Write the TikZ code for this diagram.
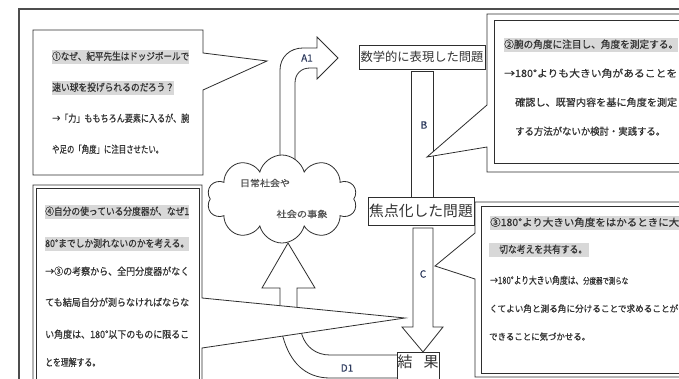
\documentclass[tikz,border=0pt]{standalone}
\usepackage{fontspec}
\usepackage{graphicx}
\setmainfont{Noto Sans CJK JP}
\newfontfamily\jpb{Noto Sans CJK JP}[FakeBold=0.6]
\usetikzlibrary{shapes.symbols}
\definecolor{ln}{HTML}{2E2E2E}
\definecolor{tx}{HTML}{333333}
\definecolor{lab}{HTML}{2E3B5E}
\definecolor{hl}{HTML}{D8D8D8}
\newcommand\fw[2]{\resizebox{#1pt}{\height}{#2}}
\begin{document}
\begin{tikzpicture}[x=1pt,y=-1pt,line join=miter,
  frame/.style={draw=ln,line width=0.8pt,fill=white},
  txt/.style={anchor=west,inner xsep=0pt,inner ysep=1.5pt,text height=8.5pt,text depth=2.5pt,font=\jpb\fontsize{10}{12}\selectfont,text=tx},
  hlt/.style={txt,fill=hl},
  lbl/.style={font=\jpb\fontsize{10}{12}\selectfont,text=lab,inner sep=0pt},
  cltxt/.style={font=\jpb\fontsize{9}{11}\selectfont,text=tx!85,inner sep=0pt},
  bigbox/.style={draw=ln,fill=white,line width=0.8pt,inner sep=0pt,text=tx}]
\useasboundingbox (0,0) rectangle (679,379);
\clip (0,0) rectangle (679,379);
\fill[white] (0,0) rectangle (679,379);
% outer frame
\draw[draw=ln!85,line width=1.6pt] (19,390) -- (19,9) -- (690,9);
% A1 bent arrow
\draw[frame] (280,175) -- (280,70) .. controls (280,57) and (290,48) .. (303,48) -- (317,48) -- (317,37) -- (338,58) -- (317,79) -- (317,68) -- (310,68) .. controls (301,68) and (295,74) .. (295,83) -- (295,175);
\node[lbl] (A1) at (307,58) {A1};
% up arrow to cloud
\draw[frame] (280,322) -- (280,288) -- (262,288) -- (288,243) -- (315,288) -- (297,288) -- (297,322);
% D1 band
\draw[frame] (278,322) -- (283,337) .. controls (290,362) and (305,378) .. (330,378) -- (400,378) -- (400,355) -- (330,355) .. controls (316,355) and (306,347) .. (302,335) -- (298,322);
\node[lbl] (D1) at (347,368) {D1};
% cloud
\node[cloud,cloud puffs=10,cloud ignores aspect,minimum width=150pt,minimum height=88pt,draw=ln,fill=white,line width=0.8pt] (cloud) at (282,199) {};
\node[cltxt] (c1) at (265,183) {\fw{50}{日常社会や}};
\node[cltxt] (c2) at (302,214) {\fw{51}{社会の事象}};
% B bar and problem boxes
\node[bigbox,minimum width=22pt,minimum height=126pt] (Bbar) at (422,134) {};
\node[lbl] (B) at (424,125) {B};
\node[bigbox,minimum width=126pt,minimum height=24pt,font=\fontsize{12.3}{14}\selectfont] (P1) at (422,57) {数学的に表現した問題};
\node[bigbox,minimum width=106pt,minimum height=28pt,font=\fontsize{14.8}{16}\selectfont] (P2) at (421,211) {焦点化した問題};
% C arrow
\draw[frame] (413,228) -- (413,327) -- (402,327) -- (423,352) -- (443,327) -- (433,327) -- (433,228) -- cycle;
\node[lbl] (C) at (423,274) {C};
% result box
\draw[frame] (397,352) rectangle (439,395);
\node[inner sep=0pt,font=\fontsize{15}{17}\selectfont,text=tx,anchor=north] (R) at (418,355) {\fw{41}{結\hspace{11pt}果}};
% box 1
\draw[frame] (33,30) -- (203,30) -- (203,53) -- (267,61) -- (203,90) -- (203,175) -- (33,175) -- cycle;
\node[hlt] (b1a) at (52,57) {\fw{137}{①なぜ、紀平先生はドッジボールで}};
\node[hlt] (b1b) at (52,88) {\fw{122}{速い球を投げられるのだろう？}};
\node[txt] (b1c) at (52,119) {\fw{137}{→「力」ももちろん要素に入るが、腕}};
\node[txt] (b1d) at (52,150) {\fw{111}{や足の「角度」に注目させたい。}};
% box 2
\draw[frame] (690,14) -- (487,14) -- (487,105) -- (427,157) -- (487,147) -- (487,172) -- (690,172);
\draw[frame] (494,20) rectangle (690,163);
\node[hlt] (b2a) at (504,45) {\fw{174}{②腕の角度に注目し、角度を測定する。}};
\node[txt] (b2b) at (504,74) {\fw{173}{→180°よりも大きい角があることを}};
\node[txt] (b2c) at (515,103) {\fw{162}{確認し、既習内容を基に角度を測定}};
\node[txt] (b2d) at (515,132) {\fw{150}{する方法がないか検討・実践する。}};
% box 3
\draw[frame] (690,202) -- (475,202) -- (475,233) -- (435,266) -- (475,279) -- (475,377) -- (690,377);
\draw[frame] (481,206) rectangle (690,373);
\node[hlt] (b3a) at (490,223) {\fw{189}{③180°より大きい角度をはかるときに大}};
\node[hlt] (b3b) at (489,250) {\hspace*{10pt}\fw{88}{切な考えを共有する。}\hspace*{2pt}};
\node[txt] (b3c) at (490,281) {\fw{93}{→180°より大きい角度は、}};
\node[txt,font=\jpb\fontsize{8.5}{10}\selectfont] (b3c2) at (583,281) {\fw{45}{分度器で測らな}};
\node[txt,font=\jpb\fontsize{9}{11}\selectfont] (b3d) at (489,309) {\fw{189}{くてよい角と測る角に分けることで求めることが}};
\node[txt,font=\jpb\fontsize{9}{11}\selectfont] (b3e) at (489,337) {\fw{101}{できることに気づかせる。}};
% box 4
\draw[frame] (33,395) -- (33,185) -- (202,185) -- (202,298) -- (405,318) -- (202,348) -- (202,395);
\draw[frame] (36,188) rectangle (199,395);
\node[hlt] (b4a) at (45,212) {\fw{144}{④自分の使っている分度器が、なぜ1}};
\node[hlt] (b4b) at (45,244) {\fw{144}{80°までしか測れないのかを考える。}};
\node[txt] (b4c) at (45,272) {\fw{144}{→③の考察から、全円分度器がなく}};
\node[txt] (b4d) at (45,303) {\fw{144}{ても結局自分が測らなければならな}};
\node[txt] (b4e) at (45,335) {\fw{144}{い角度は、180°以下のものに限るこ}};
\node[txt] (b4f) at (45,363) {\fw{55}{とを理解する。}};
\end{tikzpicture}
\end{document}
